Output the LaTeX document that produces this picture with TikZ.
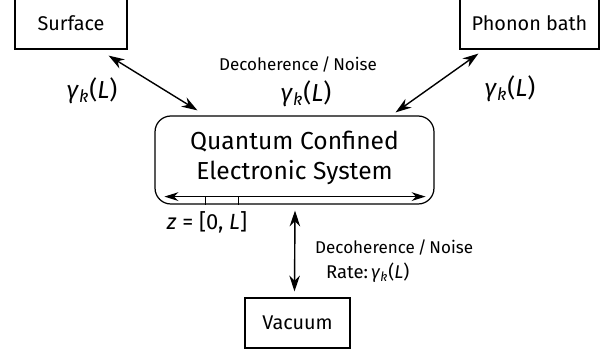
\documentclass[tikz,border=0pt]{standalone}
\usepackage{amsmath}
\usepackage{fontspec}
\setmainfont{Fira Sans}
\usetikzlibrary{arrows.meta}
\newcommand\gammakL{\textit{γ}\textsubscript{\textit{k}}(\textit{L})}
\tikzset{every node/.style={font=\fontsize{9.7}{12}\selectfont},
  envbox/.style={draw, line width=0.7pt, inner sep=0pt, font=\fontsize{11.3}{13}\selectfont},
  link/.style={{Stealth[length=9pt,width=6pt]}-{Stealth[length=9pt,width=6pt]}, line width=0.8pt},
  rate/.style={font=\fontsize{14}{16}\selectfont}}

\begin{document}
\begin{tikzpicture}[x=0.02cm, y=-0.02cm]
  \useasboundingbox (0,0) rectangle (609,354);
  % environments
  \node[envbox, minimum width=2.24cm, minimum height=1.04cm] (surf) at (71,23) {Surface};
  \node[envbox, minimum width=2.78cm, minimum height=1.04cm] (phon) at (529.5,23) {Phonon bath};
  \node[envbox, minimum width=2.1cm, minimum height=1.0cm] (vac) at (297.5,323) {Vacuum};
  % the system
  \node[draw, line width=0.7pt, rounded corners=9pt, inner sep=0pt,
    minimum width=5.58cm, minimum height=1.76cm] (sys) at (294.5,160) {};
  \node[font=\fontsize{14}{16}\selectfont] (title1) at (294.5,142) {Quantum Confined};
  \node[font=\fontsize{14}{16}\selectfont] (title2) at (294.5,173) {Electronic System};
  \draw[{Stealth[length=8pt,width=5pt]}-{Stealth[length=8pt,width=5pt]}, line width=0.7pt]
    ([shift={(10,-8)}]sys.south west) -- ([shift={(-9,-8)}]sys.south east);
  \foreach \t in {51,84}
    \draw[line width=0.7pt] ([shift={(\t,-8)}]sys.south west) -- ([xshift=\t*0.02cm]sys.south west);
  \node[font=\fontsize{12.5}{14}\selectfont] (zlab) at (207,222) {\textit{z} = [0, \textit{L}]};
  % couplings
  \draw[link] ([shift={(-19,6)}]surf.south east) -- ([shift={(43,-5)}]sys.north west);
  \draw[link] ([shift={(19,4)}]phon.south west) -- ([shift={(-39,-3)}]sys.north east);
  \draw[link] ([shift={(0.5,6)}]sys.south) -- ([yshift=0.12cm]sys.south |- vac.north);
  % labels
  \node (noisetop) at (298,65) {Decoherence\,/\,Noise};
  \node[rate] (gtop) at (306,94) {\gammakL};
  \node[rate] (gleft) at (92,91) {\gammakL};
  \node[rate] (gright) at (510,89) {\gammakL};
  \node[anchor=west] (noisebot) at (309,248) {Decoherence\,/\,Noise};
  \node[anchor=west, font=\fontsize{10.5}{12}\selectfont] (ratebot) at (320,273) {Rate:\,\gammakL};
\end{tikzpicture}
\end{document}
